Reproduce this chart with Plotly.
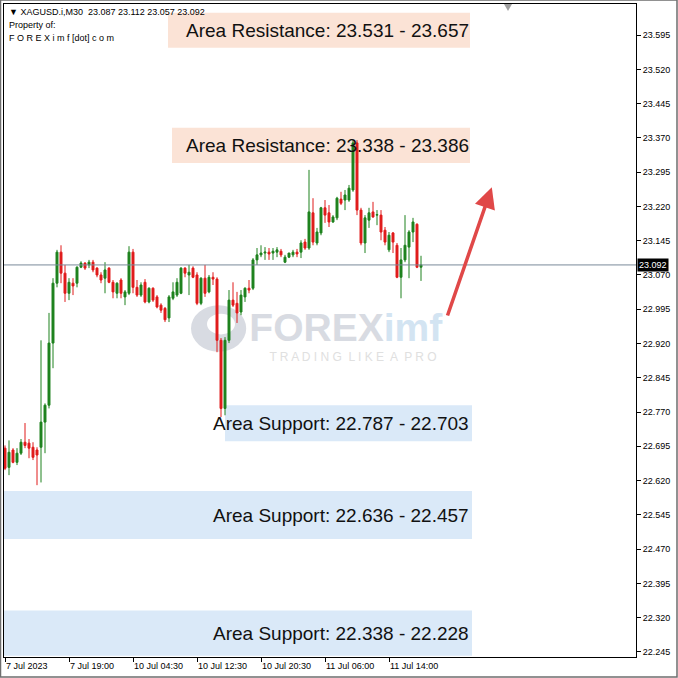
import plotly.graph_objects as go

# ---------------- data (XAGUSD M30) ----------------
opens = [22.691, 22.649, 22.687, 22.660, 22.680, 22.704, 22.702, 22.693, 22.687, 22.693,
         22.748, 22.785, 22.921, 23.052, 23.120, 23.074, 23.030, 23.052, 23.052, 23.087,
         23.096, 23.092, 23.098, 23.085, 23.070, 23.063, 23.085, 23.054, 23.030, 23.059,
         23.022, 23.030, 23.120, 23.043, 23.026, 23.054, 23.011, 23.041, 23.022, 23.004,
         22.997, 22.976, 23.019, 23.026, 23.030, 23.085, 23.070, 23.085, 23.070, 23.008,
         23.063, 23.033, 23.065, 23.061, 22.927, 22.778, 22.927, 23.015, 23.008, 22.989,
         23.022, 23.041, 23.041, 23.103, 23.114, 23.118, 23.120, 23.118, 23.120, 23.122,
         23.098, 23.109, 23.114, 23.120, 23.120, 23.142, 23.129, 23.206, 23.140, 23.162,
         23.217, 23.206, 23.186, 23.195, 23.236, 23.234, 23.234, 23.256, 23.359, 23.212,
         23.140, 23.190, 23.208, 23.201, 23.201, 23.168, 23.125, 23.162, 23.135, 23.065,
         23.103, 23.131, 23.164, 23.181, 23.087]
highs = [22.697, 22.708, 22.691, 22.691, 22.711, 22.746, 22.711, 22.704, 22.693, 22.927,
         22.789, 22.987, 23.063, 23.125, 23.135, 23.092, 23.063, 23.063, 23.089, 23.100,
         23.098, 23.103, 23.103, 23.087, 23.076, 23.098, 23.087, 23.059, 23.054, 23.063,
         23.037, 23.133, 23.127, 23.059, 23.054, 23.061, 23.043, 23.043, 23.026, 23.008,
         23.000, 23.026, 23.054, 23.063, 23.087, 23.087, 23.092, 23.089, 23.076, 23.065,
         23.092, 23.070, 23.076, 23.065, 22.932, 22.934, 23.037, 23.054, 23.033, 23.037,
         23.043, 23.059, 23.107, 23.129, 23.135, 23.131, 23.129, 23.129, 23.131, 23.127,
         23.114, 23.118, 23.125, 23.127, 23.146, 23.149, 23.300, 23.238, 23.173, 23.219,
         23.234, 23.223, 23.201, 23.241, 23.252, 23.256, 23.267, 23.365, 23.365, 23.217,
         23.201, 23.217, 23.230, 23.212, 23.212, 23.175, 23.164, 23.164, 23.140, 23.129,
         23.201, 23.168, 23.195, 23.183, 23.112]
lows = [22.643, 22.632, 22.658, 22.654, 22.676, 22.691, 22.669, 22.665, 22.610, 22.616,
        22.680, 22.778, 22.866, 23.043, 23.052, 23.011, 23.015, 23.026, 23.043, 23.085,
        23.081, 23.085, 23.076, 23.065, 23.052, 23.030, 23.052, 23.019, 23.019, 23.019,
        23.004, 23.026, 23.030, 23.022, 23.022, 23.008, 23.008, 23.011, 22.997, 22.987,
        22.967, 22.967, 23.015, 23.022, 23.028, 23.065, 23.026, 23.063, 23.004, 23.004,
        23.022, 23.030, 23.048, 22.901, 22.759, 22.763, 22.921, 23.000, 22.965, 22.982,
        23.011, 23.030, 23.037, 23.092, 23.109, 23.103, 23.103, 23.103, 23.109, 23.109,
        23.096, 23.107, 23.109, 23.109, 23.107, 23.125, 23.125, 23.135, 23.135, 23.157,
        23.184, 23.175, 23.184, 23.190, 23.223, 23.212, 23.230, 23.252, 23.201, 23.135,
        23.118, 23.173, 23.195, 23.179, 23.146, 23.135, 23.120, 23.118, 23.063, 23.019,
        23.098, 23.063, 23.142, 23.085, 23.057]
closes = [22.647, 22.682, 22.660, 22.680, 22.704, 22.697, 22.691, 22.671, 22.676, 22.748,
          22.785, 22.921, 23.052, 23.120, 23.074, 23.030, 23.054, 23.046, 23.087, 23.096,
          23.085, 23.098, 23.081, 23.070, 23.059, 23.081, 23.054, 23.033, 23.052, 23.030,
          23.033, 23.120, 23.043, 23.026, 23.048, 23.011, 23.041, 23.015, 23.000, 22.993,
          22.972, 23.022, 23.033, 23.054, 23.085, 23.074, 23.076, 23.065, 23.008, 23.063,
          23.030, 23.065, 23.061, 22.927, 22.778, 22.927, 23.015, 23.004, 22.987, 23.026,
          23.041, 23.037, 23.103, 23.114, 23.118, 23.120, 23.116, 23.122, 23.125, 23.114,
          23.109, 23.118, 23.120, 23.116, 23.140, 23.129, 23.208, 23.142, 23.164, 23.217,
          23.201, 23.186, 23.197, 23.238, 23.227, 23.245, 23.260, 23.359, 23.212, 23.140,
          23.195, 23.206, 23.197, 23.202, 23.164, 23.142, 23.157, 23.142, 23.065, 23.103,
          23.135, 23.164, 23.186, 23.087, 23.092]
bars = list(range(len(closes)))

time_tick_bars = [0, 16, 32, 48, 64, 80, 96]
time_tick_labels = ["7 Jul 2023", "7 Jul 19:00", "10 Jul 04:30", "10 Jul 12:30",
                    "10 Jul 20:30", "11 Jul 06:00", "11 Jul 14:00"]
price_ticks = [22.245, 22.320, 22.395, 22.470, 22.545, 22.620, 22.695, 22.770, 22.845,
               22.920, 22.995, 23.070, 23.145, 23.220, 23.295, 23.370, 23.445, 23.520, 23.595]

# zones as drawn: start bar, end bar, top price, bottom price, label, kind
zone_start = [40.75, 41.75, 55.0, -0.25, -0.25]
zone_end = [116.25, 116.25, 116.75, 116.75, 116.75]
zone_top = [23.644, 23.392, 22.785, 22.597, 22.336]
zone_bottom = [23.567, 23.315, 22.706, 22.492, 22.237]
zone_labels = ["Area Resistance: 23.531 - 23.657", "Area Resistance: 23.338 - 23.386",
               "Area Support: 22.787 - 22.703", "Area Support: 22.636 - 22.457",
               "Area Support: 22.338 - 22.228"]
zone_kind = ["res", "res", "sup", "sup", "sup"]

current_price = closes[-1]
symbol = "XAGUSD.i,M30"

# ---------------- styles ----------------
GREEN = "#1E821E"
RED = "#E01B1B"
RES_FILL = "#FBE3D6"
SUP_FILL = "#DAE9F8"
FONT = "Liberation Sans, Arial, sans-serif"

fig = go.Figure()

# watermark (drawn before candles so candles sit on top)
fig.add_trace(go.Scatter(
    x=[85.2], y=[22.947], mode="text",
    text=["<b>FOREX<span style='color:#D3E4F2'>imf</span></b>"],
    textfont=dict(family=FONT, size=39, color="#D8DBE2"),
    hoverinfo="skip", showlegend=False))
fig.add_trace(go.Scatter(
    x=[87.0], y=[22.888], mode="text",
    text=["T R A D I N G  L I K E  A  P R O"],
    textfont=dict(family=FONT, size=12, color="#E0E0E0"),
    hoverinfo="skip", showlegend=False))

fig.add_trace(go.Candlestick(
    x=bars, open=opens, high=highs, low=lows, close=closes,
    increasing=dict(line=dict(color=GREEN, width=1), fillcolor=GREEN),
    decreasing=dict(line=dict(color=RED, width=1), fillcolor=RED),
    whiskerwidth=0, hoverinfo="skip", showlegend=False))

shapes = []
annotations = []

# zones
for s, e, t, b, lab, k in zip(zone_start, zone_end, zone_top, zone_bottom, zone_labels, zone_kind):
    shapes.append(dict(type="rect", xref="x", yref="y", x0=s, x1=e, y0=b, y1=t,
                       fillcolor=RES_FILL if k == "res" else SUP_FILL,
                       line=dict(width=0), layer="below"))
    annotations.append(dict(x=116.5, y=(t + b) / 2, xref="x", yref="y", text=lab,
                            showarrow=False, xanchor="right", yanchor="middle",
                            font=dict(family=FONT, size=19, color="#111111")))

# logo circle of watermark
shapes.append(dict(type="circle", xref="x", yref="y", x0=46.5, x1=60.3, y0=22.902, y1=23.004,
                   fillcolor="#D8DBE2", line=dict(width=0), layer="below"))
shapes.append(dict(type="circle", xref="x", yref="y", x0=50.5, x1=57.5, y0=22.940, y1=22.985,
                   fillcolor="#FFFFFF", line=dict(width=0), layer="below"))

# current price line
shapes.append(dict(type="line", xref="paper", yref="y", x0=0, x1=1, y0=current_price,
                   y1=current_price, line=dict(color="#7A8A99", width=1)))

# outer frame of the screenshot
shapes.append(dict(type="rect", xref="paper", yref="paper",
                   x0=-3.5 / 632, x1=673 / 632, y0=-20 / 653, y1=657 / 653,
                   line=dict(color="#6E6E6E", width=1.5), fillcolor="rgba(0,0,0,0)"))
# chart-shift marker
shapes.append(dict(type="path", xref="paper", yref="paper",
                   path="M %f %f L %f %f L %f %f Z" % (500 / 632, 1.0, 508 / 632, 1.0, 504 / 632, 646 / 653),
                   fillcolor="#A0A0A0", line=dict(width=0)))

# current price tag on the axis
annotations.append(dict(x=1, y=current_price, xref="paper", yref="y",
                        text="%.3f" % current_price, showarrow=False,
                        xanchor="left", yanchor="middle", xshift=1,
                        bgcolor="#000000", borderpad=1,
                        font=dict(family=FONT, size=9, color="#FFFFFF")))

# header text
header = "▼ %s  %.3f %.3f %.3f %.3f" % (symbol, opens[-1], highs[-1], lows[-1], closes[-1])
for txt, py in [(header, 645), ("Property of:", 632), ("F O R E X i m f [dot] c o m", 619)]:
    annotations.append(dict(x=3 / 632, y=py / 653, xref="paper", yref="paper", text=txt,
                            showarrow=False, xanchor="left", yanchor="middle",
                            font=dict(family=FONT, size=9, color="#000000")))

# arrow
annotations.append(dict(x=121.7, y=23.262, ax=110.5, ay=22.978, xref="x", yref="y",
                        axref="x", ayref="y", text="", showarrow=True,
                        arrowhead=2, arrowsize=1.2, arrowwidth=3.5, arrowcolor="#E04848"))

fig.update_layout(
    width=678, height=678,
    margin=dict(l=4, r=42, t=4, b=21, pad=0, autoexpand=False),
    paper_bgcolor="#FFFFFF", plot_bgcolor="#FFFFFF",
    shapes=shapes, annotations=annotations,
    font=dict(family=FONT, size=9, color="#000000"),
    showlegend=False,
    xaxis=dict(range=[-0.25, 157.75], rangeslider=dict(visible=False),
               tickvals=time_tick_bars, ticktext=time_tick_labels,
               ticks="outside", ticklen=4, tickcolor="#000000",
               ticklabelposition="outside right",
               tickfont=dict(family=FONT, size=9, color="#000000"),
               showgrid=False, zeroline=False,
               showline=True, mirror=True, linecolor="#000000", linewidth=1),
    yaxis=dict(range=[22.234, 23.663], side="right",
               tickvals=price_ticks, tickformat=".3f",
               ticks="outside", ticklen=4, tickcolor="#000000",
               tickfont=dict(family=FONT, size=9, color="#000000"),
               showgrid=False, zeroline=False,
               showline=True, mirror=True, linecolor="#000000", linewidth=1),
)

fig.write_html("out.html", config={"displayModeBar": False},
               post_script="document.body.style.margin='0px';document.body.style.padding='0px';")
